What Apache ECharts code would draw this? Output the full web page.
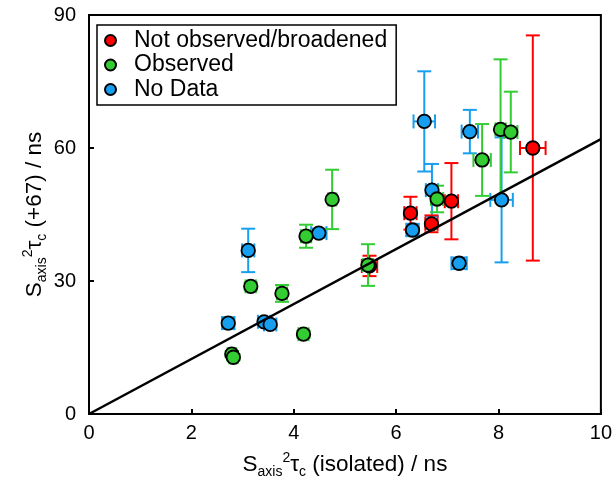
<!DOCTYPE html>
<html>
<head>
<meta charset="utf-8">
<script src="https://cdn.jsdelivr.net/npm/echarts@6/dist/echarts.min.js"></script>
<style>
  html, body { margin: 0; padding: 0; background: #fff; }
  #chart { width: 615px; height: 486px; }
</style>
</head>
<body>
<div id="chart"></div>
<script>
// data
var redX = [8.67, 7.08, 6.28, 6.69, 5.48];
var redY = [60.0, 48.0, 45.3, 42.9, 33.4];
var redXErr = [0.25, 0.13, 0.12, 0.12, 0.15];
var redYErr = [25.4, 8.6, 3.7, 1.9, 2.3];

var greenX = [2.79, 2.82, 3.16, 3.77, 4.19, 4.24, 4.75, 5.45, 6.80, 7.68, 8.04, 8.24];
var greenY = [13.5, 12.8, 28.8, 27.2, 18.0, 40.1, 48.4, 33.6, 48.5, 57.3, 64.2, 63.6];
var greenXErr = [0.08, 0.08, 0.1, 0.1, 0.1, 0.1, 0.08, 0.1, 0.12, 0.17, 0.1, 0.13];
var greenYErr = [0.7, 0.7, 0.9, 1.9, 0.8, 2.6, 6.7, 4.7, 3.0, 8.1, 15.8, 9.1];

var blueX = [2.72, 3.11, 3.42, 3.54, 4.49, 6.32, 6.55, 6.70, 7.44, 8.06, 7.23];
var blueY = [20.5, 36.9, 20.8, 20.2, 40.8, 41.5, 66.0, 50.5, 63.7, 48.3, 34.0];
var blueXErr = [0.12, 0.12, 0.12, 0.12, 0.15, 0.12, 0.21, 0.12, 0.16, 0.22, 0.15];
var blueYErr = [1.3, 4.9, 0.8, 0.6, 1.0, 1.4, 11.3, 5.9, 4.9, 14.1, 1.3];

var fitX = [0, 10];
var fitY = [0, 62];

var groupNames = ['Not observed/broadened', 'Observed', 'No Data'];
var xTicks = [0, 2, 4, 6, 8, 10];
var yTicks = [0, 30, 60, 90];

var FONT = '"Liberation Sans", Arial, sans-serif';

function zip(a, b, c, d) {
    var out = [];
    for (var i = 0; i < a.length; i++) {
        out.push(c ? [a[i], b[i], c[i], d[i]] : [a[i], b[i]]);
    }
    return out;
}

// error bars drawn with a custom series
function errorBars(name, color, data) {
    return {
        name: name,
        type: 'custom',
        data: data,
        silent: true,
        renderItem: function (params, api) {
            var x = api.value(0), y = api.value(1), ex = api.value(2), ey = api.value(3);
            var top = api.coord([x, y + ey]);
            var bot = api.coord([x, y - ey]);
            var lft = api.coord([x - ex, y]);
            var rgt = api.coord([x + ex, y]);
            var c = 7;
            var st = {stroke: color, lineWidth: 2};
            var lines = [
                [top, bot],
                [[top[0] - c, top[1]], [top[0] + c, top[1]]],
                [[bot[0] - c, bot[1]], [bot[0] + c, bot[1]]],
                [lft, rgt],
                [[lft[0], lft[1] - c], [lft[0], lft[1] + c]],
                [[rgt[0], rgt[1] - c], [rgt[0], rgt[1] + c]]
            ];
            return {
                type: 'group',
                children: lines.map(function (l) {
                    return {type: 'line', shape: {x1: l[0][0], y1: l[0][1], x2: l[1][0], y2: l[1][1]}, style: st};
                })
            };
        }
    };
}

function points(name, color, data) {
    return {
        name: name,
        type: 'scatter',
        data: data,
        symbol: 'circle',
        symbolSize: 13.5,
        itemStyle: {color: color, borderColor: '#000', borderWidth: 1.8, opacity: 1}
    };
}

var RED = '#ff0000', GREEN = '#33cc33', BLUE = '#169ff0';

var nameRich = {
    b: {fontSize: 22.5, fontFamily: FONT, color: '#000'},
    sub: {fontSize: 14, fontFamily: FONT, color: '#000', padding: [15, 0, 0, 0]},
    sup: {fontSize: 14, fontFamily: FONT, color: '#000', padding: [0, 0, 12, 0]}
};

var option = {
    animation: false,
    backgroundColor: '#fff',
    grid: {left: 89, right: 14, top: 15, bottom: 72, show: true, borderColor: '#000', borderWidth: 2},
    legend: {
        data: groupNames,
        orient: 'vertical',
        left: 97,
        top: 25,
        padding: [4, 9, 4, 7],
        itemGap: 1.5,
        itemWidth: 11,
        itemHeight: 11,
        borderColor: '#000',
        borderWidth: 1.5,
        backgroundColor: '#fff',
        textStyle: {fontSize: 23, fontFamily: FONT, color: '#000', padding: [0, 0, 0, 13]}
    },
    xAxis: {
        type: 'value',
        min: xTicks[0],
        max: xTicks[xTicks.length - 1],
        interval: 2,
        splitLine: {show: false},
        axisLine: {lineStyle: {color: '#000', width: 2}},
        axisTick: {inside: true, length: 5, lineStyle: {color: '#000', width: 2}},
        axisLabel: {fontSize: 20, fontFamily: FONT, color: '#000', margin: 9},
        name: '{b|S}{sub|axis}{sup|2}{b|τ}{sub|c}{b| (isolated) / ns}',
        nameLocation: 'middle',
        nameGap: 36,
        nameMoveOverlap: false,
        nameTextStyle: {rich: nameRich}
    },
    yAxis: {
        type: 'value',
        min: yTicks[0],
        max: yTicks[yTicks.length - 1],
        interval: 30,
        splitLine: {show: false},
        axisLine: {lineStyle: {color: '#000', width: 2}},
        axisTick: {inside: true, length: 5, lineStyle: {color: '#000', width: 2}},
        axisLabel: {fontSize: 20, fontFamily: FONT, color: '#000', margin: 13},
        name: '{b|S}{sub|axis}{sup|2}{b|τ}{sub|c}{b| (+67) / ns}',
        nameLocation: 'middle',
        nameGap: 40,
        nameMoveOverlap: false,
        nameTextStyle: {rich: nameRich}
    },
    series: [
        {
            name: 'fit',
            type: 'line',
            data: zip(fitX, fitY),
            symbol: 'none',
            silent: true,
            lineStyle: {color: '#000', width: 2.5}
        },
        errorBars('err-blue', BLUE, zip(blueX, blueY, blueXErr, blueYErr)),
        points(groupNames[2], BLUE, zip(blueX, blueY)),
        errorBars('err-red', RED, zip(redX, redY, redXErr, redYErr)),
        points(groupNames[0], RED, zip(redX, redY)),
        errorBars('err-green', GREEN, zip(greenX, greenY, greenXErr, greenYErr)),
        points(groupNames[1], GREEN, zip(greenX, greenY))
    ]
};

var mychart = echarts.init(document.getElementById('chart'));
mychart.setOption(option);
</script>
</body>
</html>
